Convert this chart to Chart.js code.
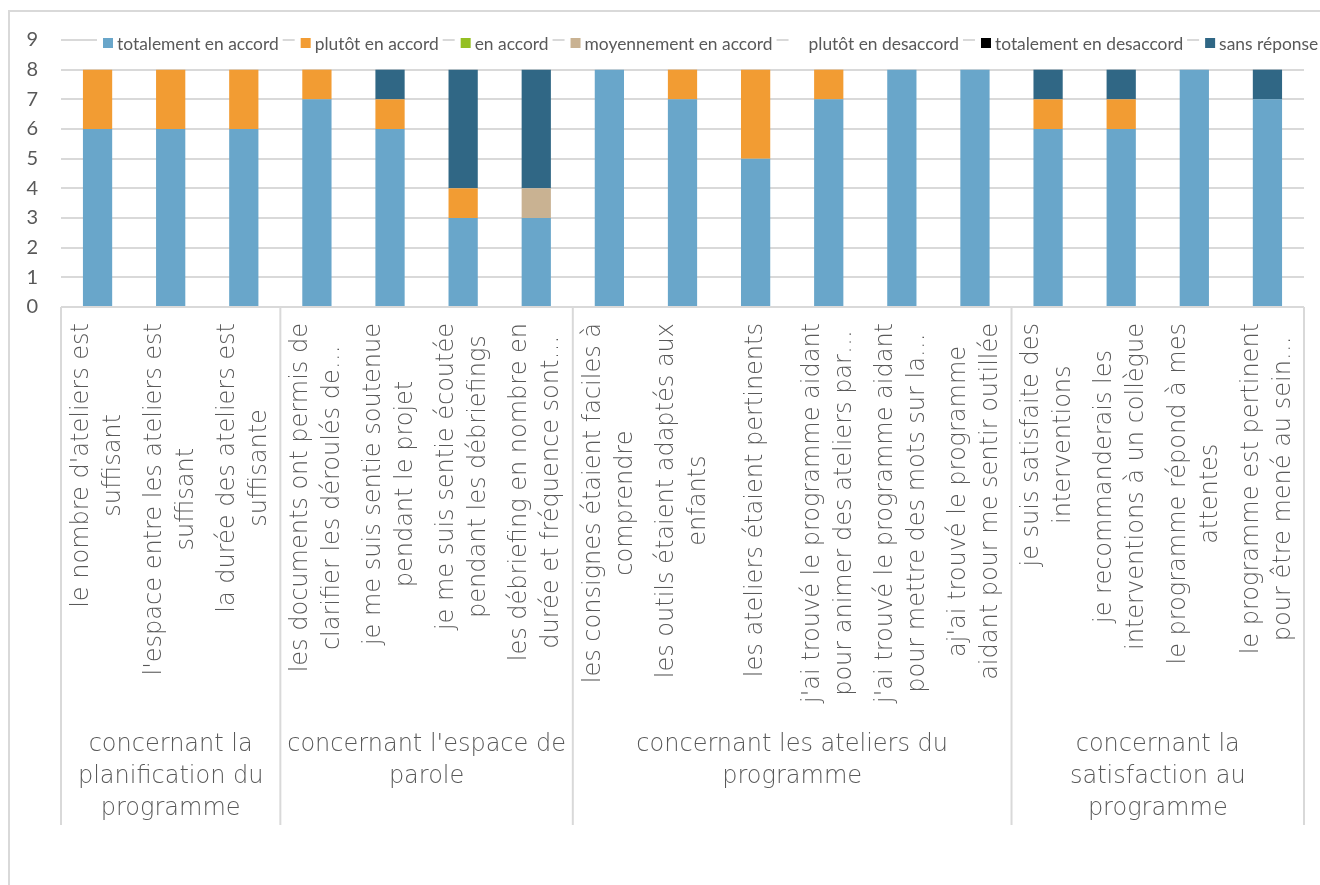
<!DOCTYPE html>
<html>
<head>
<meta charset="utf-8">
<script src="https://cdn.jsdelivr.net/npm/chart.js@4.4.0/dist/chart.umd.min.js"></script>
<style>
  html, body { margin: 0; padding: 0; background: #fff; }
  .chart-container { position: relative; width: 1320px; height: 885px; }
</style>
</head>
<body>
<div class="chart-container">
  <canvas id="chart"></canvas>
</div>
<script>
// categories, already split into the lines shown under each bar
const categories = [
  ["le nombre d'ateliers est", "suffisant"],
  ["l'espace entre les ateliers est", "suffisant"],
  ["la durée des ateliers est", "suffisante"],
  ["les documents ont permis de", "clarifier les déroulés de…"],
  ["je me suis sentie soutenue", "pendant le projet"],
  ["je me suis sentie écoutée", "pendant les débriefings"],
  ["les débriefing en nombre en", "durée et fréquence sont…"],
  ["les consignes étaient faciles à", "comprendre"],
  ["les outils étaient adaptés aux", "enfants"],
  ["les ateliers étaient pertinents"],
  ["j'ai trouvé le programme aidant", "pour animer des ateliers par…"],
  ["j'ai trouvé le programme aidant", "pour mettre des mots sur la…"],
  ["aj'ai trouvé le programme", "aidant pour me sentir outillée"],
  ["je suis satisfaite des", "interventions"],
  ["je recommanderais les", "interventions à un collègue"],
  ["le programme répond à mes", "attentes"],
  ["le programme est pertinent", "pour être mené au sein…"]
];

const groupLabels = [
  ["concernant la", "planification du", "programme"],
  ["concernant l'espace de", "parole"],
  ["concernant les ateliers du", "programme"],
  ["concernant la", "satisfaction au", "programme"]
];
const groupSizes = [3, 4, 6, 4];

const totalementAccord    = [6, 6, 6, 7, 6, 3, 3, 8, 7, 5, 7, 8, 8, 6, 6, 8, 7];
const plutotAccord        = [2, 2, 2, 1, 1, 1, 0, 0, 1, 3, 1, 0, 0, 1, 1, 0, 0];
const enAccord            = [0, 0, 0, 0, 0, 0, 0, 0, 0, 0, 0, 0, 0, 0, 0, 0, 0];
const moyennementAccord   = [0, 0, 0, 0, 0, 0, 1, 0, 0, 0, 0, 0, 0, 0, 0, 0, 0];
const plutotDesaccord     = [0, 0, 0, 0, 0, 0, 0, 0, 0, 0, 0, 0, 0, 0, 0, 0, 0];
const totalementDesaccord = [0, 0, 0, 0, 0, 0, 0, 0, 0, 0, 0, 0, 0, 0, 0, 0, 0];
const sansReponse         = [0, 0, 0, 0, 1, 4, 4, 0, 0, 0, 0, 0, 0, 1, 1, 0, 1];

const yTicks = [0, 1, 2, 3, 4, 5, 6, 7, 8, 9];

const grey = '#595959';
const lineGrey = '#d9d9d9';
const labelFont = "200 24px 'DejaVu Sans'";

// draws the frame, the legend and the two-level category axis
const decorations = {
  id: 'decorations',
  beforeDraw(chart) {
    const ctx = chart.ctx;
    ctx.save();
    ctx.strokeStyle = lineGrey;
    ctx.lineWidth = 2;
    ctx.strokeRect(9, 11, 1400, 1000);
    ctx.restore();
  },
  afterDraw(chart) {
    const ctx = chart.ctx;
    const x = chart.scales.x;
    const area = chart.chartArea;
    const n = categories.length;

    ctx.save();

    // group separators
    const bounds = [area.left];
    let idx = 0;
    groupSizes.forEach(size => {
      idx += size;
      if (idx >= n) bounds.push(area.right);
      else bounds.push((x.getPixelForValue(idx - 1) + x.getPixelForValue(idx)) / 2);
    });
    ctx.strokeStyle = lineGrey;
    ctx.lineWidth = 2;
    bounds.forEach(bx => {
      ctx.beginPath();
      ctx.moveTo(bx, area.bottom);
      ctx.lineTo(bx, area.bottom + 518);
      ctx.stroke();
    });

    // rotated category labels
    ctx.fillStyle = grey;
    ctx.font = labelFont;
    ctx.textAlign = 'center';
    ctx.textBaseline = 'middle';
    categories.forEach((lines, i) => {
      const cx = x.getPixelForValue(i);
      const len = Math.max(...lines.map(l => ctx.measureText(l).width));
      ctx.save();
      ctx.translate(cx, area.bottom + 16 + len / 2);
      ctx.rotate(-Math.PI / 2);
      lines.forEach((l, k) => {
        ctx.fillText(l, 0, (k - (lines.length - 1) / 2) * 32);
      });
      ctx.restore();
    });

    // group labels
    groupLabels.forEach((lines, g) => {
      const gx = (bounds[g] + bounds[g + 1]) / 2;
      lines.forEach((l, k) => {
        ctx.fillText(l, gx, area.bottom + 438 + k * 32);
      });
    });

    // legend
    ctx.font = "17.4px Lato";
    ctx.textAlign = 'left';
    let lx = 103;
    const ly = 43;
    chart.data.datasets.forEach(ds => {
      const w = ctx.measureText(ds.label).width;
      ctx.fillStyle = '#fff';
      ctx.fillRect(lx - 6, ly - 8, w + 24, 16);
      ctx.fillStyle = ds.backgroundColor;
      ctx.fillRect(lx, ly - 5, 10, 10);
      ctx.fillStyle = grey;
      ctx.fillText(ds.label, lx + 14, ly + 1);
      lx += 14 + w + 22;
    });

    ctx.restore();
  }
};

new Chart(document.getElementById('chart'), {
  type: 'bar',
  data: {
    labels: categories.map(c => c.join(' ')),
    datasets: [
      { label: 'totalement en accord', data: totalementAccord, backgroundColor: '#69A6CA' },
      { label: 'plutôt en accord', data: plutotAccord, backgroundColor: '#F29C33' },
      { label: 'en accord', data: enAccord, backgroundColor: '#94BF22' },
      { label: 'moyennement en accord', data: moyennementAccord, backgroundColor: '#C9B292' },
      { label: 'plutôt en desaccord', data: plutotDesaccord, backgroundColor: '#FFFFFF' },
      { label: 'totalement en desaccord', data: totalementDesaccord, backgroundColor: '#000000' },
      { label: 'sans réponse', data: sansReponse, backgroundColor: '#306785' }
    ]
  },
  options: {
    responsive: true,
    maintainAspectRatio: false,
    animation: false,
    layout: { padding: { top: 40, right: 16, left: 0, bottom: 0 } },
    datasets: { bar: { barPercentage: 0.4, categoryPercentage: 1 } },
    plugins: {
      legend: { display: false },
      tooltip: { enabled: false }
    },
    scales: {
      x: {
        stacked: true,
        grid: { display: false },
        border: { display: false },
        ticks: { display: false },
        afterFit(scale) { scale.height = 578; }
      },
      y: {
        stacked: true,
        min: 0,
        max: 9,
        afterBuildTicks(scale) { scale.ticks = yTicks.map(v => ({ value: v })); },
        afterFit(scale) { scale.width = 61; },
        border: { display: false },
        grid: { color: lineGrey, lineWidth: 2, drawTicks: false },
        ticks: {
          color: grey,
          padding: 23,
          font: { family: 'Lato', size: 20 }
        }
      }
    }
  },
  plugins: [decorations]
});
</script>
</body>
</html>
